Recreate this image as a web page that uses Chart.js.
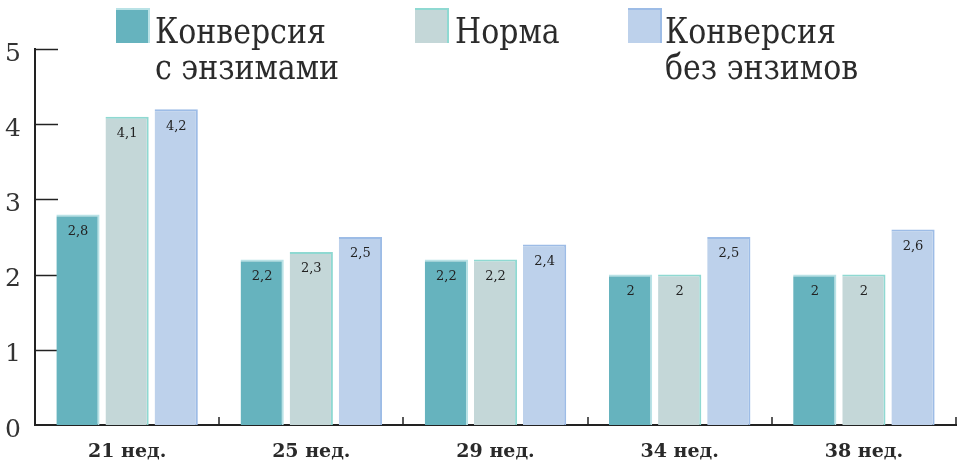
<!DOCTYPE html>
<html>
<head>
<meta charset="utf-8">
<script src="https://cdn.jsdelivr.net/npm/chart.js@4/dist/chart.umd.min.js"></script>
<style>
    html, body { margin: 0; padding: 0; background: #fff; }
    #wrap { position: relative; width: 964px; height: 462px; }
    #legend { position: absolute; left: 0; top: 0; font-family: "DejaVu Serif", serif; font-size: 30px; line-height: 31.4px; color: #2b2b2b; }
    .box { position: absolute; top: 8px; width: 34px; height: 35px; box-sizing: border-box; border-top: 2px solid; border-right: 2px solid; }
    .txt { position: absolute; top: 12px; white-space: nowrap; transform: scale(1, 1.18); transform-origin: 0 0; }
</style>
</head>
<body>
<div id="wrap">
    <canvas id="chart" width="964" height="462"></canvas>
    <div id="legend"></div>
</div>
<script>
// Данные
const categories = ['21 нед.', '25 нед.', '29 нед.', '34 нед.', '38 нед.'];
const seriesNames = [['Конверсия', 'с энзимами'], ['Норма'], ['Конверсия', 'без энзимов']];
const withEnzymes = [2.8, 2.2, 2.2, 2, 2];
const norm = [4.1, 2.3, 2.2, 2, 2];
const withoutEnzymes = [4.2, 2.5, 2.4, 2.5, 2.6];
const yTicks = [0, 1, 2, 3, 4, 5];

const fills = ['#66b3be', '#c4d7d8', '#bdd1eb'];
const edges = ['#b9e2e6', '#8fd9d2', '#9dbce6'];

// Легенда (HTML, чтобы перенос строк был как в оригинале)
const legendPos = [[116, 155], [415, 455], [628, 665]];
const legend = document.getElementById('legend');
seriesNames.forEach((name, i) => {
    const box = document.createElement('div');
    box.className = 'box';
    box.style.left = legendPos[i][0] + 'px';
    box.style.background = fills[i];
    box.style.borderColor = edges[i];
    const txt = document.createElement('div');
    txt.className = 'txt';
    txt.style.left = legendPos[i][1] + 'px';
    txt.innerHTML = name.join('<br>');
    legend.appendChild(box);
    legend.appendChild(txt);
});

// Засечки на осях
const axisTicks = {
    id: 'axisTicks',
    beforeDatasetsDraw(chart) {
        const { ctx, chartArea, scales } = chart;
        ctx.save();
        ctx.strokeStyle = '#222';
        ctx.lineWidth = 1.5;
        yTicks.forEach(v => {
            if (v === 0) return;
            const y = Math.round(scales.y.getPixelForValue(v)) + 0.5;
            ctx.beginPath();
            ctx.moveTo(chartArea.left, y);
            ctx.lineTo(chartArea.left + 23, y);
            ctx.stroke();
        });
        for (let i = 1; i <= categories.length; i++) {
            const x = Math.round(scales.x.getPixelForValue(i - 0.5));
            ctx.beginPath();
            ctx.moveTo(x, chartArea.bottom);
            ctx.lineTo(x, chartArea.bottom - 8);
            ctx.stroke();
        }
        ctx.restore();
    }
};

// Подписи значений внутри столбцов
const valueLabels = {
    id: 'valueLabels',
    afterDatasetsDraw(chart) {
        const { ctx } = chart;
        ctx.save();
        ctx.font = '13px "DejaVu Serif"';
        ctx.fillStyle = '#222';
        ctx.textAlign = 'center';
        ctx.textBaseline = 'middle';
        chart.data.datasets.forEach((ds, di) => {
            chart.getDatasetMeta(di).data.forEach((bar, i) => {
                ctx.fillText(String(ds.data[i]).replace('.', ','), bar.x, bar.y + 17);
            });
        });
        ctx.restore();
    }
};

const makeSet = (label, data, i) => ({
    label: label.join(' '),
    data: data,
    backgroundColor: fills[i],
    borderColor: edges[i],
    borderWidth: { top: 2, right: 2, bottom: 0, left: 0 },
    borderSkipped: false,
    categoryPercentage: 0.8,
    barPercentage: 0.88
});

new Chart(document.getElementById('chart'), {
    type: 'bar',
    data: {
        labels: categories,
        datasets: [
            makeSet(seriesNames[0], withEnzymes, 0),
            makeSet(seriesNames[1], norm, 1),
            makeSet(seriesNames[2], withoutEnzymes, 2)
        ]
    },
    options: {
        responsive: false,
        animation: false,
        layout: { padding: { top: 49, right: 8, left: 0, bottom: 0 } },
        plugins: {
            legend: { display: false },
            tooltip: { enabled: false }
        },
        scales: {
            x: {
                grid: { display: false },
                border: { display: true, color: '#222', width: 2 },
                ticks: {
                    color: '#2a2a2a',
                    padding: 8,
                    font: { family: 'DejaVu Serif', size: 19, weight: 'bold' }
                },
                afterFit(scale) { scale.height = 37; }
            },
            y: {
                min: 0,
                max: 5,
                grid: { display: false },
                border: { display: true, color: '#222', width: 2 },
                ticks: {
                    stepSize: 1,
                    color: '#333',
                    padding: 6,
                    labelOffset: 5,
                    font: { family: 'DejaVu Serif', size: 25 }
                },
                afterFit(scale) { scale.width = 35; }
            }
        }
    },
    plugins: [axisTicks, valueLabels]
});
</script>
</body>
</html>
